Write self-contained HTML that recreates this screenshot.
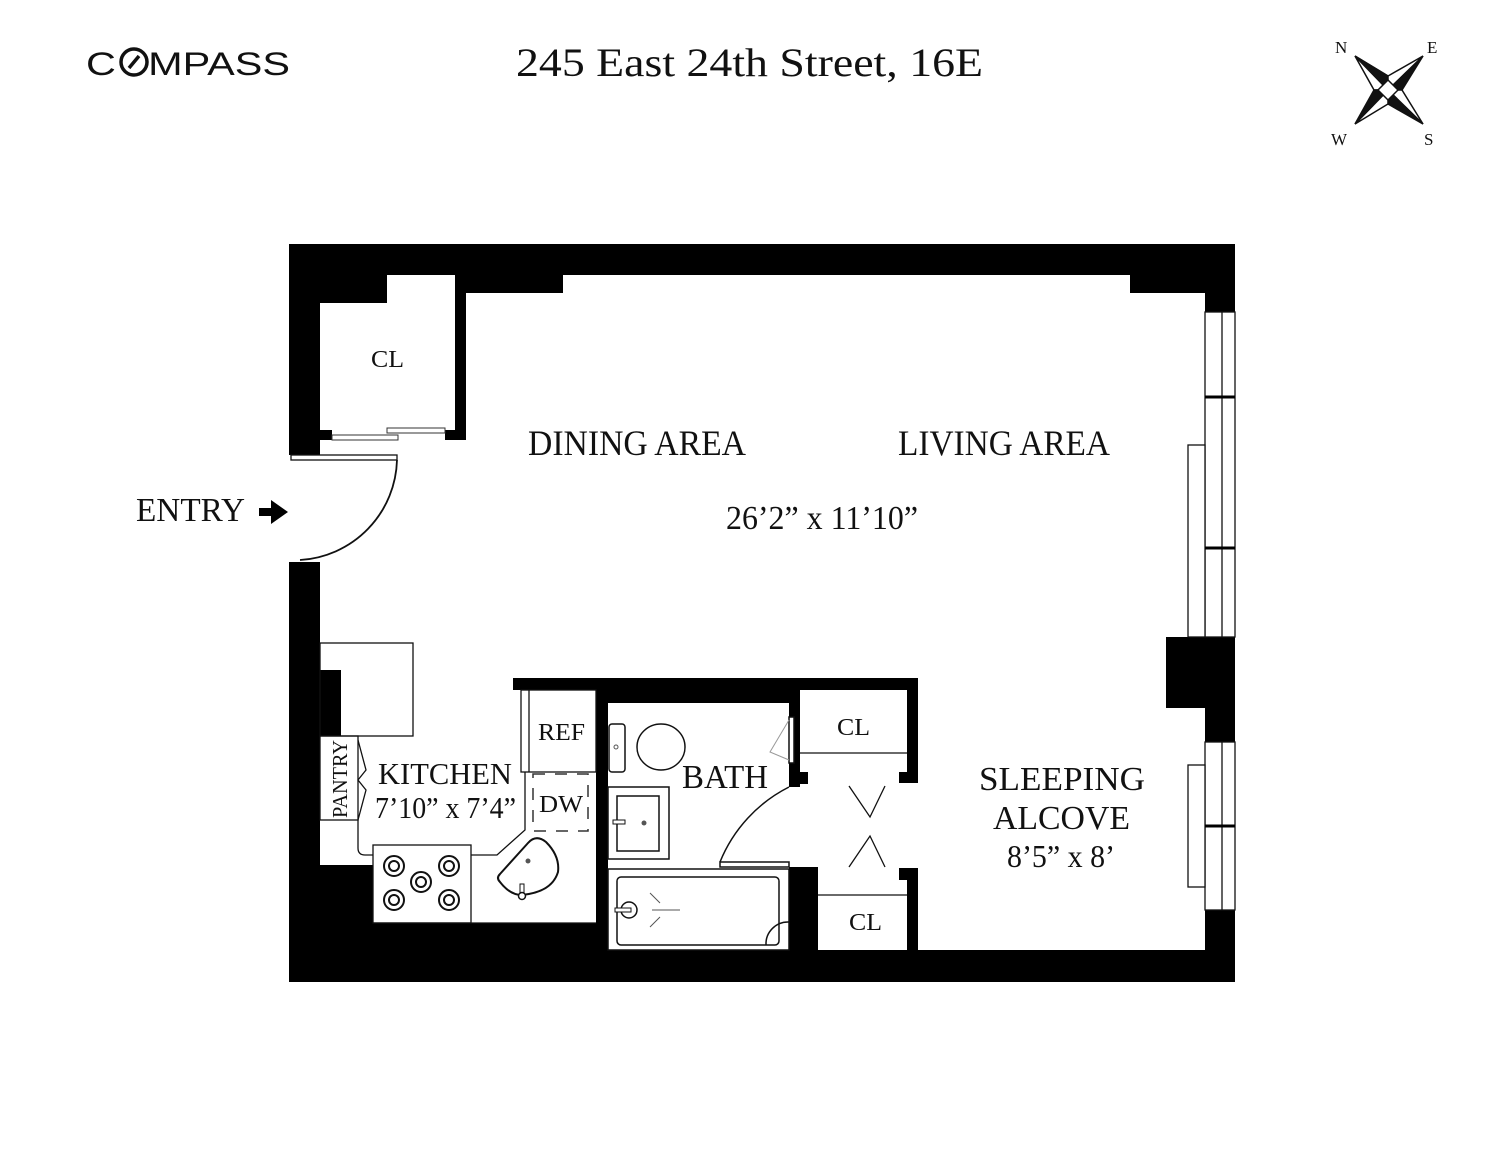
<!DOCTYPE html>
<html><head><meta charset="utf-8"><style>
html,body{margin:0;padding:0;background:#fff;}
svg{display:block;}
text{font-family:"Liberation Serif",serif;fill:#111;}
</style></head><body>
<svg width="1500" height="1159" viewBox="0 0 1500 1159" xmlns="http://www.w3.org/2000/svg">
<rect width="1500" height="1159" fill="#fff"/>
<!-- header -->
<text x="86" y="75" style="font-family:'Liberation Sans',sans-serif;font-size:32px;font-weight:normal" textLength="204" lengthAdjust="spacingAndGlyphs" fill="#111">C<tspan fill="#fff">O</tspan>MPASS</text>
<circle cx="134" cy="62" r="13" fill="none" stroke="#111" stroke-width="3.5"/>
<line x1="129" y1="68" x2="139" y2="56" stroke="#111" stroke-width="3.5"/>
<text x="516" y="76" font-size="40" textLength="467" lengthAdjust="spacingAndGlyphs">245 East 24th Street, 16E</text>
<!-- compass rose -->
<g>
<text x="1335" y="53" font-size="17">N</text>
<text x="1427" y="53" font-size="17">E</text>
<text x="1331" y="145" font-size="17">W</text>
<text x="1424" y="145" font-size="17">S</text>
<g stroke="#111" stroke-width="1.5" stroke-linejoin="miter">
<polygon points="1355,56 1388,76 1402,90 1388,104 1374,90 1388,76" fill="none"/>
<polygon points="1355,56 1374,90 1388,90" fill="#fff"/>
<polygon points="1355,56 1388,76 1388,90" fill="#111"/>
<polygon points="1423,56 1388,76 1388,90" fill="#fff"/>
<polygon points="1423,56 1402,90 1388,90" fill="#111"/>
<polygon points="1423,124 1402,90 1388,90" fill="#fff"/>
<polygon points="1423,124 1388,104 1388,90" fill="#111"/>
<polygon points="1355,124 1388,104 1388,90" fill="#fff"/>
<polygon points="1355,124 1374,90 1388,90" fill="#111"/>
<polygon points="1388,80 1398,90 1388,100 1378,90" fill="#fff"/>
</g>
</g>

<!-- walls -->
<g fill="#000">
<rect x="289" y="244" width="946" height="31"/>
<rect x="289" y="244" width="98" height="59"/>
<rect x="455" y="244" width="108" height="49"/>
<rect x="1130" y="244" width="105" height="49"/>
<rect x="1205" y="244" width="30" height="68"/>
<rect x="289" y="244" width="31" height="211"/>
<rect x="320" y="430" width="12" height="10"/>
<rect x="455" y="275" width="11" height="165"/>
<rect x="445" y="430" width="20" height="10"/>
<rect x="289" y="562" width="31" height="420"/>
<rect x="320" y="670" width="21" height="66"/>
<rect x="320" y="865" width="53" height="100"/>
<rect x="289" y="950" width="946" height="32"/>
<rect x="373" y="923" width="235" height="30"/>
<rect x="1205" y="910" width="30" height="72"/>
<rect x="1166" y="637" width="69" height="71"/>
<rect x="1205" y="700" width="30" height="42"/>
<rect x="513" y="678" width="405" height="12"/>
<rect x="596" y="678" width="12" height="272"/>
<rect x="608" y="678" width="192" height="25"/>
<rect x="789" y="690" width="11" height="97"/>
<rect x="800" y="772" width="8" height="12"/>
<rect x="850" y="678" width="68" height="12"/>
<rect x="907" y="678" width="11" height="105"/>
<rect x="899" y="772" width="10" height="11"/>
<rect x="789" y="867" width="29" height="90"/>
<rect x="907" y="868" width="11" height="85"/>
<rect x="899" y="868" width="10" height="12"/>
</g>

<!-- windows -->
<g fill="#fff" stroke="#111" stroke-width="1.3">
<rect x="1205" y="312" width="30" height="325"/>
<line x1="1222" y1="312" x2="1222" y2="637"/>
<rect x="1188" y="445" width="17" height="192"/>
<rect x="1205" y="742" width="30" height="168"/>
<line x1="1222" y1="742" x2="1222" y2="910"/>
<rect x="1188" y="765" width="17" height="122"/>
</g>
<g stroke="#000" stroke-width="3">
<line x1="1205" y1="397" x2="1235" y2="397"/>
<line x1="1205" y1="548" x2="1235" y2="548"/>
<line x1="1205" y1="826" x2="1235" y2="826"/>
</g>

<g fill="none" stroke="#333" stroke-width="1">
<rect x="332" y="435" width="66" height="5"/>
<rect x="387" y="428" width="58" height="5"/>
</g>
<rect x="291" y="455" width="106" height="5" fill="#fff" stroke="#111" stroke-width="1.3"/>
<path d="M397,460 A 103 103 0 0 1 300,560" fill="none" stroke="#111" stroke-width="1.8"/>

<!-- kitchen -->
<g fill="none" stroke="#111" stroke-width="1.3">
<rect x="320" y="643" width="93" height="93"/>
<rect x="320" y="736" width="38" height="84"/>
<path d="M358,740 L366,770 L358,780 L366,790 L358,820"/>
<path d="M358,820 L358,848 Q358,855 365,855 L373,855"/>
<rect x="373" y="845" width="98" height="78"/>
<path d="M471,855 L497,855 L525,830 L525,772"/>
<line x1="373" y1="923" x2="596" y2="923"/>
<rect x="521" y="690" width="75" height="82"/>
<line x1="529" y1="690" x2="529" y2="772"/>
</g>
<g fill="none" stroke="#111" stroke-width="2">
<circle cx="394" cy="866" r="10"/><circle cx="394" cy="866" r="5"/>
<circle cx="449" cy="866" r="10"/><circle cx="449" cy="866" r="5"/>
<circle cx="421" cy="882" r="10"/><circle cx="421" cy="882" r="5"/>
<circle cx="394" cy="900" r="10"/><circle cx="394" cy="900" r="5"/>
<circle cx="449" cy="900" r="10"/><circle cx="449" cy="900" r="5"/>
<path d="M500,874 L528,843 Q536,834 546,842 Q560,856 558,872 Q552,892 522,895 Q510,895 500,882 Q496,878 500,874 Z"/>
</g>
<circle cx="528" cy="861" r="2.5" fill="#555"/>
<rect x="520" y="884" width="4" height="11" fill="#fff" stroke="#111"/>
<circle cx="522" cy="896" r="3.5" fill="#fff" stroke="#111" stroke-width="1.5"/>
<rect x="533" y="774" width="55" height="57" fill="none" stroke="#333" stroke-width="1.5" stroke-dasharray="12,10"/>

<!-- bath -->
<g fill="none" stroke="#111" stroke-width="1.5">
<rect x="609" y="724" width="16" height="48" rx="3"/>
<ellipse cx="661" cy="747" rx="24" ry="23"/>
<rect x="608" y="787" width="61" height="72"/>
<rect x="617" y="796" width="42" height="55"/>
<rect x="608" y="869" width="181" height="81"/>
<rect x="617" y="877" width="162" height="68" rx="4"/>
<path d="M766,945 A 22 22 0 0 1 789,922"/>
<path d="M720,862 A 145 145 0 0 1 789,787"/>
<rect x="720" y="862" width="69" height="5" fill="#fff"/>
<rect x="789" y="717" width="5" height="46" fill="#fff"/>
<path d="M789,720 L770,752 L789,760" stroke="#999" stroke-width="1"/>
<circle cx="629" cy="910" r="8"/>
<path d="M650,893 L660,903 M650,927 L660,917 M652,910 L680,910" stroke="#555" stroke-width="1"/>
</g>
<circle cx="616" cy="747" r="2" fill="none" stroke="#555"/>
<circle cx="644" cy="823" r="2.5" fill="#555"/>
<rect x="613" y="820" width="12" height="4" fill="#fff" stroke="#111"/>
<rect x="615" y="908" width="16" height="4" fill="#fff" stroke="#111"/>
<g fill="none" stroke="#111" stroke-width="1.3">
<line x1="800" y1="753" x2="907" y2="753"/>
<line x1="818" y1="895" x2="907" y2="895"/>
<path d="M849,786 L870,817 L885,786"/>
<path d="M849,867 L870,836 L885,867"/>
</g>

<path d="M259,508 L271,508 L271,500 L288,512 L271,524 L271,516 L259,516 Z" fill="#000"/>

<!-- labels -->
<text x="371" y="367" font-size="24" textLength="33" lengthAdjust="spacingAndGlyphs">CL</text>
<text x="528" y="455" font-size="36" textLength="218" lengthAdjust="spacingAndGlyphs">DINING AREA</text>
<text x="898" y="455" font-size="36" textLength="212" lengthAdjust="spacingAndGlyphs">LIVING AREA</text>
<text x="726" y="529" font-size="34" textLength="192" lengthAdjust="spacingAndGlyphs">26’2” x 11’10”</text>
<text x="136" y="521" font-size="34" textLength="109" lengthAdjust="spacingAndGlyphs">ENTRY</text>
<text x="378" y="784" font-size="31" textLength="134" lengthAdjust="spacingAndGlyphs">KITCHEN</text>
<text x="375" y="818" font-size="31" textLength="141" lengthAdjust="spacingAndGlyphs">7’10” x 7’4”</text>
<text transform="translate(347,818) rotate(-90)" font-size="21" textLength="78" lengthAdjust="spacingAndGlyphs">PANTRY</text>
<text x="538" y="740" font-size="24" textLength="47" lengthAdjust="spacingAndGlyphs">REF</text>
<text x="539" y="812" font-size="24" textLength="44" lengthAdjust="spacingAndGlyphs">DW</text>
<text x="682" y="788" font-size="34" textLength="86" lengthAdjust="spacingAndGlyphs">BATH</text>
<text x="837" y="735" font-size="24" textLength="33" lengthAdjust="spacingAndGlyphs">CL</text>
<text x="849" y="930" font-size="24" textLength="33" lengthAdjust="spacingAndGlyphs">CL</text>
<text x="979" y="790" font-size="34" textLength="166" lengthAdjust="spacingAndGlyphs">SLEEPING</text>
<text x="993" y="829" font-size="34" textLength="137" lengthAdjust="spacingAndGlyphs">ALCOVE</text>
<text x="1007" y="867" font-size="32" textLength="108" lengthAdjust="spacingAndGlyphs">8’5” x 8’</text>
</svg>
</body></html>
